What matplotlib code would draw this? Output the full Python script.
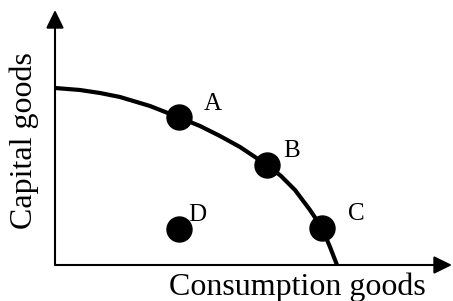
import matplotlib
matplotlib.use('Agg')
from matplotlib import pyplot as plt

# production possibility frontier
curveX = [0, 25, 45, 65, 85, 95, 123, 145, 165, 185, 212, 226, 240, 255, 267, 275, 282]
curveY = [177, 175, 172, 168, 162, 159, 148, 139, 129, 118, 100, 89, 75, 55, 37, 18, 0]

pointNames = ['A', 'B', 'C', 'D']
pointX = [124, 212, 267, 124]
pointY = [148, 100, 37, 36]

xLabel = 'Consumption goods'
yLabel = 'Capital goods'

plt.rcParams['font.family'] = ['Liberation Serif', 'DejaVu Serif']

fig = plt.figure(figsize=(4.53, 3.01), dpi=100)
ax = fig.add_axes([55 / 453, 36 / 301, 398 / 453, 265 / 301])
ax.set_xlim(0, 398)
ax.set_ylim(0, 265)
ax.axis('off')

# axes with arrow heads
arrow = dict(arrowstyle='-|>,head_length=0.55,head_width=0.27', lw=1.5,
             color='black', mutation_scale=20, shrinkA=0, shrinkB=0)
ax.annotate('', xy=(397, 0), xytext=(0, 0), arrowprops=arrow, annotation_clip=False)
ax.annotate('', xy=(0, 255), xytext=(0, 0), arrowprops=arrow, annotation_clip=False)

ax.plot(curveX, curveY, color='black', lw=3, solid_capstyle='butt', clip_on=False)
ax.plot(pointX, pointY, 'o', color='black', ms=18, clip_on=False)

# point labels sit up and to the right of each dot
offsets = {'A': (34, 13), 'B': (25, 14), 'C': (34, 14), 'D': (18, 14)}
for n, x, y in zip(pointNames, pointX, pointY):
    dx, dy = offsets[n]
    ax.text(x + dx, y + dy, n, fontsize=18, ha='center', va='center')

ax.text(242, -22, xLabel, fontsize=23, ha='center', va='center', clip_on=False)
ax.text(-31, 124, yLabel, fontsize=23, ha='center', va='center', rotation=90, clip_on=False)

fig.savefig('out.png', dpi=100)
